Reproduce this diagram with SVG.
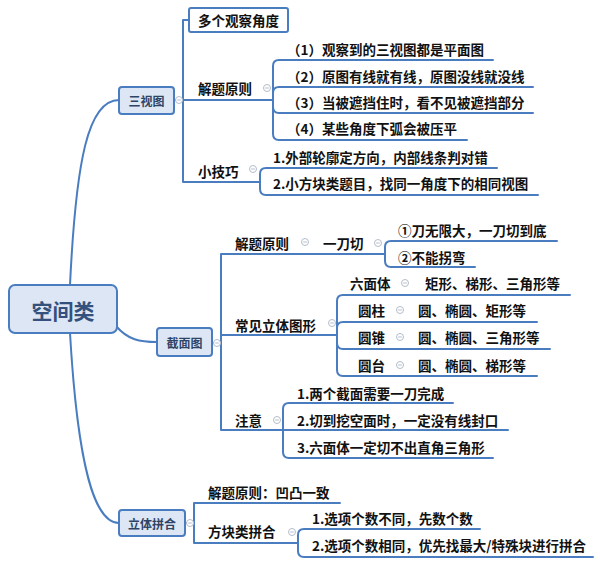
<svg xmlns="http://www.w3.org/2000/svg" width="600" height="566" viewBox="0 0 600 566">
<defs>
<style>
.bg{fill:#ffffff}
.ln{fill:none;stroke:#4a7dc0;stroke-width:2;stroke-linecap:round;stroke-linejoin:round}
.box{fill:#dce6f4;stroke:#4a7dc0;stroke-width:2}
.wbox{fill:#ffffff;stroke:#4a7dc0;stroke-width:2}
.t{font-family:"Noto Sans CJK SC","Microsoft YaHei",sans-serif;font-weight:bold;font-size:13.5px;fill:#111111;dominant-baseline:central}
.nt{font-family:"Noto Sans CJK SC","Microsoft YaHei",sans-serif;font-weight:bold;font-size:12px;fill:#2e4466;dominant-baseline:central;text-anchor:middle}
.rt{font-family:"Noto Sans CJK SC","Microsoft YaHei",sans-serif;font-weight:bold;font-size:21px;fill:#34507c;dominant-baseline:central;text-anchor:middle}
.c{fill:#ffffff;stroke:#b4bccb;stroke-width:1}
.cm{stroke:#b4bccb;stroke-width:1}
</style>
<g id="col"><circle class="c" cx="0" cy="0" r="3.5"/><line class="cm" x1="-1.8" y1="0" x2="1.8" y2="0"/></g>
</defs>
<rect class="bg" x="0" y="0" width="600" height="566"/>

<g id="connectors">
<!-- root to main nodes -->
<path class="ln" d="M70,285 C76,160 88,100 119,100"/>
<path class="ln" d="M116,326 C128,340 140,342 157,342"/>
<path class="ln" d="M70,333 C78,470 95,523 119,523"/>
<!-- 三视图 bracket -->
<path class="ln" d="M174,100 H273"/>
<path class="ln" d="M189,20 H183 V182 H260"/>
<!-- 解题原则 (三视图) children -->
<path class="ln" d="M273,100 V66 Q273,60 279,60 H493"/>
<path class="ln" d="M273,100 V93 Q273,87 279,87 H533"/>
<path class="ln" d="M273,100 V107 Q273,113 279,113 H533"/>
<path class="ln" d="M273,100 V134 Q273,140 279,140 H467"/>
<!-- 小技巧 children -->
<path class="ln" d="M260,182 V174 Q260,168 266,168 H497"/>
<path class="ln" d="M260,182 V189 Q260,195 266,195 H538"/>
<!-- 截面图 bracket -->
<path class="ln" d="M212,343 H221"/>
<path class="ln" d="M385,254 H221 V430 H283"/>
<path class="ln" d="M221,335 H337"/>
<!-- 一刀切 children -->
<path class="ln" d="M385,254 V247 Q385,241 391,241 H557"/>
<path class="ln" d="M385,254 V261 Q385,267 391,267 H475"/>
<!-- 常见立体图形 children -->
<path class="ln" d="M337,335 V301 Q337,295 343,295 H570"/>
<path class="ln" d="M337,335 V328 Q337,322 343,322 H537"/>
<path class="ln" d="M337,335 V343 Q337,349 343,349 H550"/>
<path class="ln" d="M337,335 V370 Q337,376 343,376 H537"/>
<!-- 注意 children -->
<path class="ln" d="M283,430 V409 Q283,403 289,403 H453"/>
<path class="ln" d="M283,430 H508"/>
<path class="ln" d="M283,430 V452 Q283,458 289,458 H493"/>
<!-- 立体拼合 bracket -->
<path class="ln" d="M185,523 H194"/>
<path class="ln" d="M340,503 H194 V543 H298"/>
<!-- 方块类拼合 children -->
<path class="ln" d="M298,543 V535 Q298,529 304,529 H480"/>
<path class="ln" d="M298,543 V551 Q298,557 304,557 H593"/>
</g>

<g id="root">
<rect class="box" x="9" y="285" width="108" height="48" rx="6"/>
<text class="rt" x="63" y="310">空间类</text>
</g>

<g id="sanshitu">
<rect class="box" x="119" y="87" width="55" height="27" rx="3"/>
<text class="nt" x="146.5" y="100.5">三视图</text>
<use href="#col" x="179" y="100"/>
</g>
<g id="duoge">
<rect class="wbox" x="189" y="8" width="99" height="24" rx="2"/>
<text class="t" x="238.5" y="20" text-anchor="middle">多个观察角度</text>
</g>
<g id="jieti1">
<text class="t" x="198" y="88">解题原则</text>
<use href="#col" x="267" y="88"/>
</g>
<g id="j1c1"><text class="t" x="287" y="49">（1）观察到的三视图都是平面图</text></g>
<g id="j1c2"><text class="t" x="287" y="76">（2）原图有线就有线，原图没线就没线</text></g>
<g id="j1c3"><text class="t" x="287" y="102">（3）当被遮挡住时，看不见被遮挡部分</text></g>
<g id="j1c4"><text class="t" x="287" y="128">（4）某些角度下弧会被压平</text></g>
<g id="xiaojiqiao">
<text class="t" x="198" y="171">小技巧</text>
<use href="#col" x="253" y="169"/>
</g>
<g id="xj1"><text class="t" x="273" y="157">1.外部轮廓定方向，内部线条判对错</text></g>
<g id="xj2"><text class="t" x="273" y="183">2.小方块类题目，找同一角度下的相同视图</text></g>

<g id="jiemiantu">
<rect class="box" x="157" y="328" width="55" height="28" rx="3"/>
<text class="nt" x="184.5" y="342">截面图</text>
<use href="#col" x="217" y="343"/>
</g>
<g id="jieti2">
<text class="t" x="235" y="243">解题原则</text>
<use href="#col" x="305" y="242"/>
</g>
<g id="yidaoqie">
<text class="t" x="323" y="243">一刀切</text>
<use href="#col" x="378" y="243"/>
</g>
<g id="ydq1"><text class="t" x="398" y="230">①刀无限大，一刀切到底</text></g>
<g id="ydq2"><text class="t" x="398" y="257">②不能拐弯</text></g>
<g id="changjian">
<text class="t" x="235" y="325">常见立体图形</text>
<use href="#col" x="332" y="323"/>
</g>
<g id="liumianti">
<text class="t" x="350" y="283">六面体</text>
<use href="#col" x="405" y="283"/>
<text class="t" x="425" y="283">矩形、梯形、三角形等</text>
</g>
<g id="yuanzhu">
<text class="t" x="358" y="310">圆柱</text>
<use href="#col" x="400" y="310"/>
<text class="t" x="418" y="310">圆、椭圆、矩形等</text>
</g>
<g id="yuanzhui">
<text class="t" x="358" y="337">圆锥</text>
<use href="#col" x="400" y="337"/>
<text class="t" x="418" y="337">圆、椭圆、三角形等</text>
</g>
<g id="yuantai">
<text class="t" x="358" y="365">圆台</text>
<use href="#col" x="400" y="365"/>
<text class="t" x="418" y="365">圆、椭圆、梯形等</text>
</g>
<g id="zhuyi">
<text class="t" x="235" y="420">注意</text>
<use href="#col" x="277" y="420"/>
</g>
<g id="zy1"><text class="t" x="297" y="393">1.两个截面需要一刀完成</text></g>
<g id="zy2"><text class="t" x="297" y="420">2.切到挖空面时，一定没有线封口</text></g>
<g id="zy3"><text class="t" x="297" y="447">3.六面体一定切不出直角三角形</text></g>

<g id="litipinhe">
<rect class="box" x="119" y="510" width="66" height="26" rx="3"/>
<text class="nt" x="152" y="523">立体拼合</text>
<use href="#col" x="190" y="523"/>
</g>
<g id="jieti3"><text class="t" x="208" y="492">解题原则：凹凸一致</text></g>
<g id="fangkuai">
<text class="t" x="208" y="531">方块类拼合</text>
<use href="#col" x="292" y="532"/>
</g>
<g id="fk1"><text class="t" x="312" y="518">1.选项个数不同，先数个数</text></g>
<g id="fk2"><text class="t" x="312" y="545">2.选项个数相同，优先找最大/特殊块进行拼合</text></g>
</svg>
